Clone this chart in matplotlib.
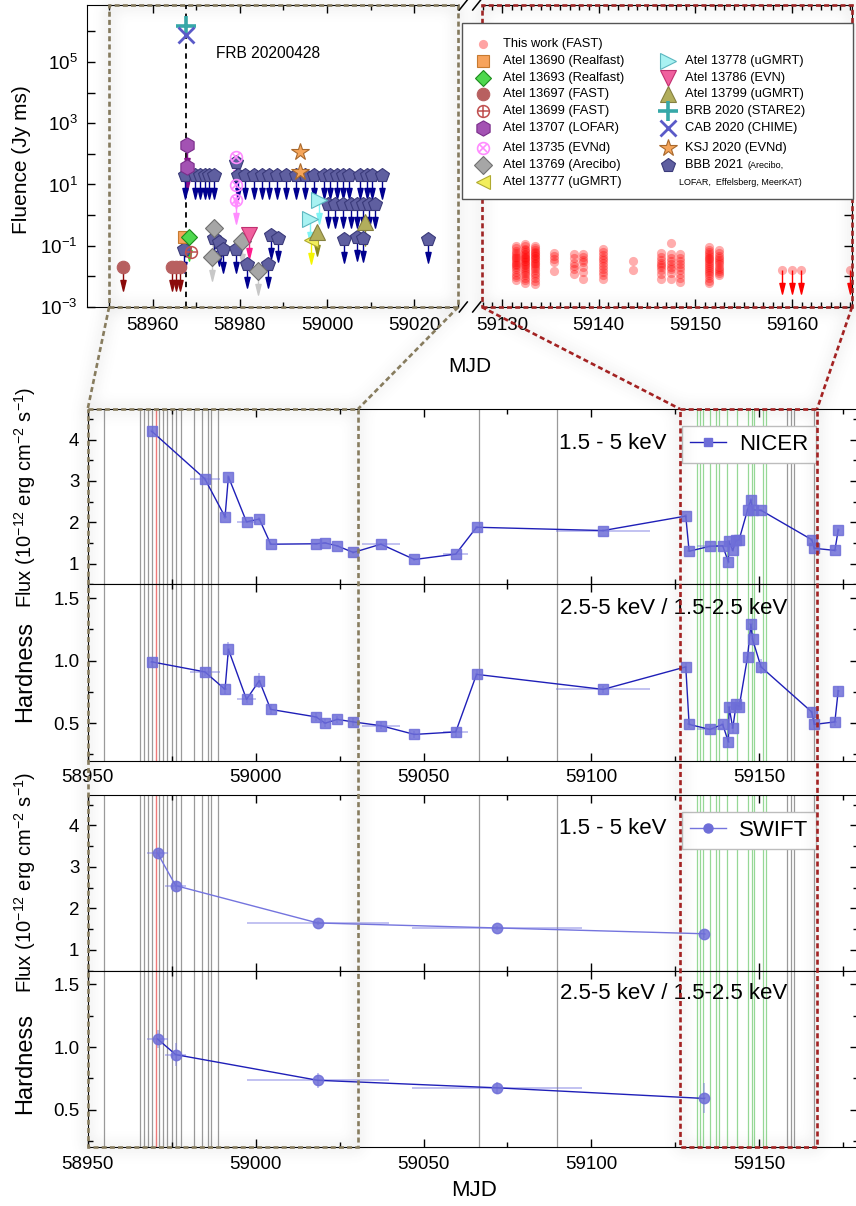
import numpy as np
import matplotlib
matplotlib.use("Agg")
import matplotlib.pyplot as plt
from matplotlib.path import Path
from matplotlib.lines import Line2D
from matplotlib.patches import Rectangle
from matplotlib.ticker import MultipleLocator, FixedLocator, FuncFormatter, NullLocator, FormatStrFormatter

plt.rcParams['font.family'] = ['Liberation Sans', 'DejaVu Sans']
plt.rcParams['mathtext.fontset'] = 'custom'
plt.rcParams['mathtext.rm'] = 'Liberation Sans'
plt.rcParams['mathtext.it'] = 'Liberation Sans:italic'
plt.rcParams['mathtext.default'] = 'regular'

# ---------------- radio: FAST bursts (this work) ----------------
fast_days = [59131.4, 59132.4, 59133.4, 59135.4, 59137.4, 59138.4, 59140.4,
             59143.5, 59146.4, 59147.5, 59148.4, 59151.4, 59152.4]
fast_fluence = [
    [0.100, 0.082, 0.068, 0.058, 0.050, 0.044, 0.039, 0.034, 0.030, 0.026, 0.023, 0.020, 0.017, 0.014, 0.011, 0.0092, 0.0078],
    [0.115, 0.095, 0.080, 0.070, 0.062, 0.055, 0.049, 0.044, 0.040, 0.036, 0.032, 0.029, 0.026, 0.023, 0.020, 0.018, 0.015, 0.013, 0.011, 0.0090, 0.0075, 0.0060],
    [0.100, 0.085, 0.072, 0.063, 0.056, 0.050, 0.045, 0.040, 0.036, 0.032, 0.028, 0.025, 0.022, 0.019, 0.016, 0.013, 0.011, 0.0090, 0.0072, 0.0055],
    [0.060, 0.045, 0.036, 0.029, 0.015],
    [0.055, 0.040, 0.028, 0.022, 0.018, 0.012],
    [0.052, 0.042, 0.034, 0.030, 0.020, 0.014, 0.0085],
    [0.080, 0.062, 0.050, 0.040, 0.033, 0.027, 0.022, 0.018, 0.014, 0.011, 0.0085],
    [0.031, 0.016],
    [0.056, 0.042, 0.034, 0.028, 0.024, 0.020, 0.016, 0.012, 0.0085],
    [0.120, 0.052, 0.040, 0.032, 0.026, 0.021, 0.017, 0.013, 0.0085],
    [0.055, 0.040, 0.032, 0.025, 0.020, 0.016, 0.012, 0.0088, 0.0065],
    [0.090, 0.075, 0.063, 0.054, 0.047, 0.041, 0.036, 0.031, 0.027, 0.024, 0.021, 0.018, 0.015, 0.013, 0.011, 0.0090, 0.0072, 0.0060],
    [0.070, 0.058, 0.048, 0.040, 0.034, 0.029, 0.025, 0.021, 0.018, 0.015, 0.013, 0.011],
]
fast_ul_days = [59159.0, 59160.0, 59160.9, 59166.0]
fast_ul_fluence = [0.016, 0.016, 0.016, 0.016]

# ---------------- radio: literature values ----------------
atel13690_mjd, atel13690_flu = [58967.2], [0.19]
atel13693_mjd, atel13693_flu = [58968.4], [0.19]
atel13697_mjd, atel13697_flu = [58953.1, 58964.35, 58965.3, 58966.3], [0.020, 0.020, 0.020, 0.020]
atel13699_mjd, atel13699_flu = [58968.9], [0.063]
atel13707_mjd, atel13707_flu = [58967.9, 58967.9], [190.0, 37.0]
atel13735_mjd, atel13735_flu = [58979.1, 58979.1, 58979.1], [79.0, 9.3, 3.2]
atel13769_mjd, atel13769_flu = [58974.1, 58973.5, 58980.4, 58984.2], [0.38, 0.043, 0.14, 0.015]
atel13777_mjd, atel13777_flu = [58996.3], [0.15]
atel13778_mjd, atel13778_flu = [58998.2, 58996.1], [3.05, 0.77]
atel13786_mjd, atel13786_flu = [58982.1], [0.22]
atel13799_mjd, atel13799_flu = [58997.6, 59008.7], [0.28, 0.60]
brb2020_mjd, brb2020_flu = [58967.6], [1.5e6]
cab2020_mjd, cab2020_flu = [58967.6], [7.4e5]
ksj2020_mjd, ksj2020_flu = [58993.8, 58993.8], [115.0, 25.7]
bbb2021_mjd = [58967.3, 58969.7, 58970.9, 58972.0, 58973.0, 58974.1,
               58979.6, 58981.2, 58983.2, 58985.0, 58986.7, 58988.6, 58990.6, 58992.9,
               58994.9, 58997.0, 58999.4, 59000.7, 59002.2, 59003.7, 59005.1,
               59007.5, 59009.1, 59010.2, 59012.5,
               59000.1, 59001.8, 59003.7, 59005.4, 59006.8, 59008.2, 59009.7, 59011.0,
               58967.2, 58974.1, 58975.1, 58976.2, 58979.1, 58981.6, 58987.1, 58988.8,
               58986.5, 59003.9, 59006.8, 59008.3, 59023.2, 58979.1]
bbb2021_flu = [20.0, 20.0, 20.0, 20.0, 20.0, 20.0,
               20.0, 20.0, 20.0, 20.0, 20.0, 20.0, 20.0, 20.0,
               20.0, 20.0, 20.0, 20.0, 20.0, 20.0, 20.0,
               20.0, 20.0, 20.0, 20.0,
               2.26, 2.26, 2.26, 2.26, 2.26, 2.26, 2.26, 2.26,
               0.081, 0.185, 0.13, 0.081, 0.081, 0.026, 0.22, 0.185,
               0.026, 0.17, 0.19, 0.185, 0.17, 54.0]
frb_mjd = 58967.6

# ---------------- X-ray: NICER ----------------
nicer_mjd = [58969.1, 58984.9, 58990.9, 58991.9, 58997.3, 59001.1, 59004.5, 59018.0,
             59020.7, 59024.3, 59029.1, 59037.3, 59047.3, 59059.6, 59065.8, 59103.5,
             59128.1, 59129.1, 59135.3, 59139.1, 59140.8, 59141.0, 59142.1, 59143.1,
             59144.0, 59146.5, 59147.5, 59148.0, 59150.5, 59165.6, 59166.4, 59172.5, 59173.5]
nicer_mjd_err = [0.5, 4.4, 0.5, 0.5, 2.7, 0.5, 0.5, 0.5,
                 0.5, 0.5, 0.5, 5.6, 0.5, 3.7, 0.5, 13.9,
                 0.5, 0.5, 4.0, 0.5, 0.5, 0.5, 0.5, 0.5,
                 0.5, 0.5, 0.5, 0.5, 0.5, 0.5, 0.5, 0.5, 0.5]
nicer_flux = [4.20, 3.05, 2.13, 3.10, 2.01, 2.08, 1.47, 1.48,
              1.50, 1.43, 1.27, 1.47, 1.10, 1.23, 1.88, 1.80,
              2.15, 1.30, 1.42, 1.43, 1.04, 1.54, 1.32, 1.56,
              1.58, 2.30, 2.54, 2.30, 2.29, 1.58, 1.37, 1.32, 1.81]
nicer_flux_err = [0.05, 0.04, 0.04, 0.05, 0.03, 0.04, 0.03, 0.03,
                  0.03, 0.03, 0.03, 0.03, 0.03, 0.03, 0.04, 0.03,
                  0.04, 0.03, 0.03, 0.03, 0.04, 0.04, 0.04, 0.04,
                  0.04, 0.05, 0.05, 0.05, 0.04, 0.04, 0.04, 0.04, 0.05]
nicer_hard = [0.99, 0.91, 0.77, 1.09, 0.69, 0.84, 0.61, 0.55,
              0.50, 0.53, 0.51, 0.48, 0.41, 0.43, 0.89, 0.77,
              0.95, 0.49, 0.45, 0.49, 0.35, 0.63, 0.46, 0.65,
              0.63, 1.03, 1.29, 1.17, 0.95, 0.59, 0.49, 0.51, 0.76]
nicer_hard_err = [0.03, 0.03, 0.04, 0.06, 0.03, 0.06, 0.04, 0.03,
                  0.03, 0.03, 0.03, 0.03, 0.03, 0.04, 0.04, 0.03,
                  0.03, 0.03, 0.03, 0.03, 0.04, 0.04, 0.04, 0.04,
                  0.04, 0.04, 0.04, 0.05, 0.06, 0.04, 0.03, 0.03, 0.04]

# ---------------- X-ray: Swift ----------------
swift_mjd = [58970.8, 58976.2, 59018.5, 59071.8, 59133.6]
swift_mjd_err = [3.2, 3.2, 21.1, 25.3, 0.5]
swift_flux = [3.33, 2.55, 1.65, 1.53, 1.39]
swift_flux_err = [0.08, 0.08, 0.05, 0.05, 0.10]
swift_hard = [1.065, 0.94, 0.735, 0.675, 0.59]
swift_hard_err = [0.07, 0.09, 0.06, 0.05, 0.12]

# ---------------- epoch markers ----------------
radio_epochs = [58954.9, 58965.6, 58966.8, 58968.0, 58969.1, 58971.3, 58972.5, 58973.7,
                58975.0, 58976.2, 58977.7, 58981.8, 58983.9, 58985.7, 58986.7, 58988.9,
                59066.6, 59089.7, 59158.3, 59159.4, 59160.4, 59166.4]
frb_epoch = [58970.2]
fast_epochs = [59131.5, 59132.3, 59133.1, 59135.3, 59137.1, 59138.1, 59140.3,
               59143.4, 59146.7, 59147.7, 59148.4, 59151.2, 59152.0]
zoom_left = (58950.0, 59030.5)
zoom_right = (59126.4, 59167.2)

# ---------------- figure ----------------
W, H = 856, 1206
fig = plt.figure(figsize=(W / 100, H / 100), dpi=100)


def frac(l, t, r, b):
    return [l / W, 1 - b / H, (r - l) / W, (b - t) / H]


GREY_BOX = '#877c5e'
RED_BOX = '#a32222'
DASH = (0, (1.9, 1.2))
TICK_FS = 13.5

# downward arrow used for upper limits (anchored at the data point)
arrow = Path([(0, 0), (0, -0.55), (-0.11, -0.55), (0.11, -0.55), (0, -1.0), (0, 0)],
             [Path.MOVETO, Path.LINETO, Path.MOVETO, Path.LINETO, Path.LINETO, Path.CLOSEPOLY])


def down_arrows(ax, x, y, color, z=2):
    ax.plot(x, y, ls='none', marker=arrow, ms=34, mfc=color, mec=color, mew=1.0, zorder=z)


# ---- top panels ----
axL = fig.add_axes(frac(87.3, 5, 458.3, 307))
axR = fig.add_axes(frac(481.7, 5, 852.0, 307))
decades = [10.0 ** k for k in range(-3, 8)]


def logfmt(v, pos):
    k = int(round(np.log10(v)))
    return r'10$^{%d}$' % k if k % 2 else ''


for ax in (axL, axR):
    ax.set_yscale('log')
    ax.set_ylim(1e-3, 10 ** 6.86)
    ax.yaxis.set_major_locator(FixedLocator(decades))
    ax.yaxis.set_minor_locator(NullLocator())
    ax.tick_params(which='both', direction='in', labelsize=TICK_FS, width=1, pad=7)
    ax.tick_params(which='major', length=6)
    ax.tick_params(which='minor', length=3.5)
axL.set_xlim(58945, 59030.1)
axR.set_xlim(59127.9, 59166.2)
axL.yaxis.set_major_formatter(FuncFormatter(logfmt))
axL.xaxis.set_major_locator(MultipleLocator(20))
axL.xaxis.set_minor_locator(MultipleLocator(10))
axR.xaxis.set_major_locator(MultipleLocator(10))
axR.xaxis.set_minor_locator(MultipleLocator(1))
axL.tick_params(which='both', left=True, right=False, top=True, bottom=True, labelleft=True)
axR.tick_params(which='both', left=False, right=True, top=True, bottom=True, labelleft=False)
axL.spines['right'].set_visible(False)
axR.spines['left'].set_visible(False)

# FRB 200428 epoch
axL.axvline(frb_mjd, color='black', ls=(0, (3, 2.5)), lw=1.3, zorder=1)
axL.text(58974.6, 1.9e5, 'FRB 20200428', fontsize=11.2, va='center', ha='left')

# marker styles for the radio series
S = {
    'fast': dict(marker='o', ms=6.6, mfc=(1, 0, 0, 0.32), mec=(1, 0, 0, 0.0)),
    '13690': dict(marker='s', ms=8, mfc='#f7a35c', mec='#c77a30', mew=0.8),
    '13693': dict(marker='D', ms=8, mfc='#4ed84e', mec='#1c8a1c', mew=0.8),
    '13697': dict(marker='o', ms=9, mfc='#b86060', mec='#b86060', mew=0.8),
    '13699': dict(marker='o', ms=8.5, mfc='none', mec='#c05050', mew=1.1),
    '13707': dict(marker='h', ms=11, mfc='#a352b3', mec='#7a2d8a', mew=0.8),
    '13735': dict(marker='o', ms=8.5, mfc='none', mec='#ff8cff', mew=1.2),
    '13769': dict(marker='D', ms=9, mfc='#a6a6a6', mec='#707070', mew=0.8),
    '13777': dict(marker='<', ms=10, mfc='#f2ee5c', mec='#b0aa30', mew=0.8),
    '13778': dict(marker='>', ms=11, mfc='#a8f2f2', mec='#5cb8c0', mew=0.8),
    '13786': dict(marker='v', ms=11, mfc='#f0609e', mec='#c03070', mew=0.8),
    '13799': dict(marker='^', ms=11, mfc='#b2ae5c', mec='#858040', mew=0.8),
    'brb': dict(marker='+', ms=15, mec='#36a8a8', mew=2.6),
    'cab': dict(marker='x', ms=12, mec='#5a5ac8', mew=2.0),
    'ksj': dict(marker='*', ms=13, mfc='#f5a55a', mec='#a8682c', mew=0.8),
    'bbb': dict(marker='p', ms=10, mfc='#5f5fa0', mec='#3a3a7a', mew=0.8),
}
ARROW_C = {'13697': '#8b0a0a', '13693': '#1ee81e', '13707': '#88108c', '13735': '#ff8cff',
           '13769': '#c8c8c8', '13777': '#f5f500', '13778': '#80f4f4', '13786': '#ff1a8c',
           '13799': '#8a8a1c', 'bbb': '#00008f', 'fast': '#ff0000'}


def pts(ax, x, y, key, z=4):
    ax.plot(x, y, ls='none', zorder=z, **S[key])


# upper-limit arrows first, symbols on top
down_arrows(axL, atel13697_mjd, atel13697_flu, ARROW_C['13697'])
down_arrows(axL, atel13693_mjd, atel13693_flu, ARROW_C['13693'])
down_arrows(axL, atel13707_mjd, atel13707_flu, ARROW_C['13707'])
down_arrows(axL, atel13735_mjd, atel13735_flu, ARROW_C['13735'])
down_arrows(axL, atel13769_mjd, atel13769_flu, ARROW_C['13769'])
down_arrows(axL, atel13777_mjd, atel13777_flu, ARROW_C['13777'])
down_arrows(axL, atel13778_mjd, atel13778_flu, ARROW_C['13778'])
down_arrows(axL, atel13786_mjd, atel13786_flu, ARROW_C['13786'])
down_arrows(axL, atel13799_mjd, atel13799_flu, ARROW_C['13799'])
down_arrows(axL, bbb2021_mjd, bbb2021_flu, ARROW_C['bbb'])

pts(axL, atel13697_mjd, atel13697_flu, '13697')
pts(axL, bbb2021_mjd, bbb2021_flu, 'bbb')
pts(axL, atel13690_mjd, atel13690_flu, '13690')
pts(axL, atel13693_mjd, atel13693_flu, '13693')
pts(axL, atel13699_mjd, atel13699_flu, '13699')
axL.plot(atel13699_mjd, atel13699_flu, ls='none', marker='+', ms=8.5, mec='#c05050', mew=1.1, zorder=4)
pts(axL, atel13707_mjd, atel13707_flu, '13707')
pts(axL, atel13735_mjd, atel13735_flu, '13735')
axL.plot(atel13735_mjd, atel13735_flu, ls='none', marker='x', ms=6, mec='#ff8cff', mew=1.2, zorder=4)
pts(axL, atel13769_mjd, atel13769_flu, '13769')
pts(axL, atel13777_mjd, atel13777_flu, '13777')
pts(axL, atel13778_mjd, atel13778_flu, '13778')
pts(axL, atel13786_mjd, atel13786_flu, '13786')
pts(axL, atel13799_mjd, atel13799_flu, '13799')
pts(axL, ksj2020_mjd, ksj2020_flu, 'ksj')
pts(axL, brb2020_mjd, brb2020_flu, 'brb', z=5)
pts(axL, cab2020_mjd, cab2020_flu, 'cab', z=5)

# FAST detections in the right-hand panel
for day, vals in zip(fast_days, fast_fluence):
    pts(axR, [day] * len(vals), vals, 'fast')
down_arrows(axR, fast_ul_days, fast_ul_fluence, ARROW_C['fast'])
pts(axR, fast_ul_days, fast_ul_fluence, 'fast')

# zoom boxes inside the top panels
axL.add_patch(Rectangle((zoom_left[0], 0), zoom_left[1] - zoom_left[0] - 0.4, 1,
                        transform=axL.get_xaxis_transform(), fill=False, ec=GREY_BOX,
                        lw=1.9, ls=DASH, zorder=6, clip_on=False))
axR.add_patch(Rectangle((0, 0), 1, 1, transform=axR.transAxes, fill=False, ec=RED_BOX,
                        lw=1.9, ls=DASH, zorder=6, clip_on=False))

fig.text(22 / W, 1 - 160 / H, 'Fluence (Jy ms)', rotation=90, ha='center', va='center', fontsize=15)
fig.text(470 / W, 1 - 367 / H, 'MJD', ha='center', va='center', fontsize=15)

# ---- X-ray panels ----
XL0 = 58950.0
XL1 = 58950.0 + (857.5 - 87.7) / 3.358
rows = [(409, 584.3), (584.3, 760.7), (794.7, 970.7), (970.7, 1147.3)]
bax = [fig.add_axes(frac(87.7, t, 857.5, b)) for t, b in rows]

for i, ax in enumerate(bax):
    ax.set_xlim(XL0, XL1)
    ax.xaxis.set_major_locator(MultipleLocator(50))
    ax.xaxis.set_minor_locator(MultipleLocator(25))
    ax.tick_params(which='both', direction='in', top=True, right=True, labelsize=TICK_FS,
                   width=1, pad=6)
    ax.tick_params(which='major', length=6)
    ax.tick_params(which='minor', length=3.5)
    for x in radio_epochs:
        ax.axvline(x, color='#9a9a9a', lw=0.9, zorder=0)
    for x in frb_epoch:
        ax.axvline(x, color='#f07a7a', lw=1.0, zorder=0)
    for x in fast_epochs:
        ax.axvline(x, color='#96d896', lw=0.9, zorder=0)
    if i % 2 == 0:
        ax.set_ylim(0.5, 4.74)
        ax.yaxis.set_major_locator(MultipleLocator(1))
        ax.yaxis.set_minor_locator(MultipleLocator(0.5))
        ax.yaxis.set_major_formatter(FormatStrFormatter('%d'))
        ax.tick_params(labelbottom=False)
    else:
        ax.set_ylim(0.2, 1.61)
        ax.yaxis.set_major_locator(MultipleLocator(0.5))
        ax.yaxis.set_minor_locator(MultipleLocator(0.25))
        ax.yaxis.set_major_formatter(FormatStrFormatter('%.1f'))

LINE_DARK = '#1f1fb8'
LINE_LIGHT = '#7474de'
MCOL = '#6e6ed8'
ECOL = (0.45, 0.45, 0.87, 0.55)
LEG_KW = dict(fontsize=16, frameon=True, fancybox=False, edgecolor='#bdbdbd', framealpha=1,
              handlelength=1.6, handletextpad=0.6, borderpad=0.35, borderaxespad=0,
              loc='upper right', bbox_transform=fig.transFigure)


def xray(ax, x, xe, y, ye, marker, ms, lcol):
    ax.errorbar(x, y, xerr=xe, yerr=ye, fmt='none', ecolor=ECOL, elinewidth=1.1, capsize=0, zorder=3)
    ax.plot(x, y, '-', color=lcol, lw=1.0, zorder=4)
    ax.plot(x, y, ls='none', marker=marker, ms=ms, mfc=MCOL, mec=MCOL, alpha=0.85, zorder=5)
    return Line2D([], [], color=lcol, lw=1.0, marker=marker, ms=ms - 1, mfc=MCOL, mec=MCOL)


hn = xray(bax[0], nicer_mjd, nicer_mjd_err, nicer_flux, nicer_flux_err, 's', 7, LINE_DARK)
xray(bax[1], nicer_mjd, nicer_mjd_err, nicer_hard, nicer_hard_err, 's', 7, LINE_DARK)
hs = xray(bax[2], swift_mjd, swift_mjd_err, swift_flux, swift_flux_err, 'o', 7.5, LINE_LIGHT)
xray(bax[3], swift_mjd, swift_mjd_err, swift_hard, swift_hard_err, 'o', 7.5, LINE_DARK)
bax[0].legend([hn], ['NICER'], bbox_to_anchor=(816 / W, 1 - 426.5 / H), **LEG_KW)
bax[2].legend([hs], ['SWIFT'], bbox_to_anchor=(816 / W, 1 - 812.3 / H), **LEG_KW)

for ty in (443.3, 828.3):
    fig.text(559 / W, 1 - ty / H, '1.5 - 5 keV', fontsize=16, ha='left', va='center')
for ty in (608.3, 993.3):
    fig.text(560 / W, 1 - ty / H, '2.5-5 keV / 1.5-2.5 keV', fontsize=16, ha='left', va='center')

flux_lab = 'Flux (10$^{-12}$ erg cm$^{-2}$ s$^{-1}$)'
fig.text(25 / W, 1 - 497 / H, flux_lab, rotation=90, ha='center', va='center', fontsize=14.5)
fig.text(25 / W, 1 - 672 / H, 'Hardness', rotation=90, ha='center', va='center', fontsize=17)
fig.text(25 / W, 1 - 882 / H, flux_lab, rotation=90, ha='center', va='center', fontsize=14.5)
fig.text(25 / W, 1 - 1064 / H, 'Hardness', rotation=90, ha='center', va='center', fontsize=17)
fig.text(474 / W, 1 - 1190 / H, 'MJD', ha='center', va='center', fontsize=16)

# ---- overlay in pixel units: legend, zoom boxes, connectors ----
ov = fig.add_axes([0, 0, 1, 1], zorder=20)
ov.axis('off')


def px(ax, x, y, trans=None):
    d = (trans or ax.transData).transform((x, y))
    return d[0], H - d[1]


bx0 = px(bax[0], zoom_left[0], 1)[0]
bx1 = px(bax[0], zoom_left[1], 1)[0]
rx0 = px(bax[0], zoom_right[0], 1)[0]
rx1 = px(bax[0], zoom_right[1], 1)[0]
ytop = px(bax[0], 0, 1, bax[0].transAxes)[1]
ybot = px(bax[3], 0, 0, bax[3].transAxes)[1]
tl0 = px(axL, zoom_left[0], 0, axL.get_xaxis_transform())
tl0t = px(axL, zoom_left[0], 1, axL.get_xaxis_transform())
tl1 = px(axL, 1, 0, axL.transAxes)
tl1t = px(axL, 1, 1, axL.transAxes)
tr0 = px(axR, 0, 0, axR.transAxes)
tr1 = px(axR, 1, 0, axR.transAxes)
tr0t = px(axR, 0, 1, axR.transAxes)

# soft drop shadow around the dashed zoom frames and connectors
glow = np.zeros((H, W))


def burn_segment(p, q):
    n = int(max(abs(q[0] - p[0]), abs(q[1] - p[1]))) + 2
    xs = np.clip(np.linspace(p[0], q[0], n).astype(int), 0, W - 1)
    ys = np.clip(np.linspace(p[1], q[1], n).astype(int), 0, H - 1)
    glow[ys, xs] = 1.0


def burn_rect(x0, y0, x1, y1):
    for p, q in (((x0, y0), (x1, y0)), ((x1, y0), (x1, y1)), ((x1, y1), (x0, y1)), ((x0, y1), (x0, y0))):
        burn_segment(p, q)


burn_rect(bx0, ytop, bx1, ybot)
burn_rect(rx0, ytop, rx1, ybot)
burn_rect(tl0t[0], tl0t[1], tl1[0], tl1[1])
burn_rect(tr0t[0], tr0t[1], tr1[0], tr1[1])
for p, q in ((tl0, (bx0, ytop)), (tl1, (bx1, ytop)), (tr0, (rx0, ytop)), (tr1, (rx1, ytop))):
    burn_segment(p, q)
sig = 7.0
k = np.exp(-0.5 * (np.arange(-25, 26) / sig) ** 2)
k /= k.sum()
glow = np.apply_along_axis(lambda r: np.convolve(r, k, mode='same'), 1, glow)
glow = np.apply_along_axis(lambda c: np.convolve(c, k, mode='same'), 0, glow)
glow = np.clip(glow / glow.max(), 0, 1) * 0.10
rgba = np.zeros((H, W, 4))
rgba[..., :3] = 0.35
rgba[..., 3] = glow
ov.imshow(rgba, extent=(0, W, H, 0), aspect='auto', interpolation='bilinear', zorder=0)
ov.set_xlim(0, W)
ov.set_ylim(H, 0)

ov.add_patch(Rectangle((bx0, ytop), bx1 - bx0, ybot - ytop, fill=False, ec=GREY_BOX, lw=1.9, ls=DASH))
ov.add_patch(Rectangle((rx0, ytop), rx1 - rx0, ybot - ytop, fill=False, ec=RED_BOX, lw=1.9, ls=DASH))
ov.plot([tl0[0], bx0], [tl0[1], ytop], color=GREY_BOX, lw=1.9, ls=DASH)
ov.plot([tl1[0], bx1], [tl1[1], ytop], color=GREY_BOX, lw=1.9, ls=DASH)
ov.plot([tr0[0], rx0], [tr0[1], ytop], color=RED_BOX, lw=1.9, ls=DASH)
ov.plot([tr1[0], rx1], [tr1[1], ytop], color=RED_BOX, lw=1.9, ls=DASH)

# broken-axis marks
for yb in (tl1[1], tl1t[1]):
    for xb in (tl1[0] + 5, tr0[0] - 5):
        ov.plot([xb - 4, xb + 4], [yb + 5, yb - 5], color='black', lw=1.1)

# legend of the radio series
ov.add_patch(Rectangle((462.3, 23.3), 391.0, 175.7, fc='white', ec='#555555', lw=1.0, zorder=1))
left_col = [('fast', 'This work (FAST)'), ('13690', 'Atel 13690 (Realfast)'),
            ('13693', 'Atel 13693 (Realfast)'), ('13697', 'Atel 13697 (FAST)'),
            ('13699', 'Atel 13699 (FAST)'), ('13707', 'Atel 13707 (LOFAR)'),
            ('13735', 'Atel 13735 (EVNd)'), ('13769', 'Atel 13769 (Arecibo)'),
            ('13777', 'Atel 13777 (uGMRT)')]
right_col = [('13778', 'Atel 13778 (uGMRT)'), ('13786', 'Atel 13786 (EVN)'),
             ('13799', 'Atel 13799 (uGMRT)'), ('brb', 'BRB 2020 (STARE2)'),
             ('cab', 'CAB 2020 (CHIME)'), ('ksj', 'KSJ 2020 (EVNd)'), ('bbb', 'BBB 2021')]
ly_left = [44, 61, 77.7, 94.3, 111, 127.7, 147.7, 165, 181.7]
ly_right = [61, 77.7, 94.3, 111, 127.7, 147.7, 165]
LEG_FS = 9.3
for (key, lab), yy in zip(left_col, ly_left):
    st = dict(S[key])
    if key == 'fast':
        st['mfc'] = '#ffa3a3'
    ov.plot([483.3], [yy], ls='none', zorder=3, **st)
    if key == '13699':
        ov.plot([483.3], [yy], ls='none', marker='+', ms=8.5, mec='#c05050', mew=1.1, zorder=3)
    if key == '13735':
        ov.plot([483.3], [yy], ls='none', marker='x', ms=6, mec='#ff8cff', mew=1.2, zorder=3)
    ov.text(502.7, yy, lab, fontsize=LEG_FS, va='center', ha='left', zorder=3)
for (key, lab), yy in zip(right_col, ly_right):
    ov.plot([667.7], [yy], ls='none', zorder=3, **S[key])
    ov.text(685, yy, lab, fontsize=LEG_FS, va='center', ha='left', zorder=3)
ov.text(748, 165, '(Arecibo,', fontsize=6.5, va='center', ha='left', zorder=3)
ov.text(679, 182.5, 'LOFAR,  Effelsberg, MeerKAT)', fontsize=6.5, va='center', ha='left', zorder=3)

fig.savefig('out.png', dpi=100)
